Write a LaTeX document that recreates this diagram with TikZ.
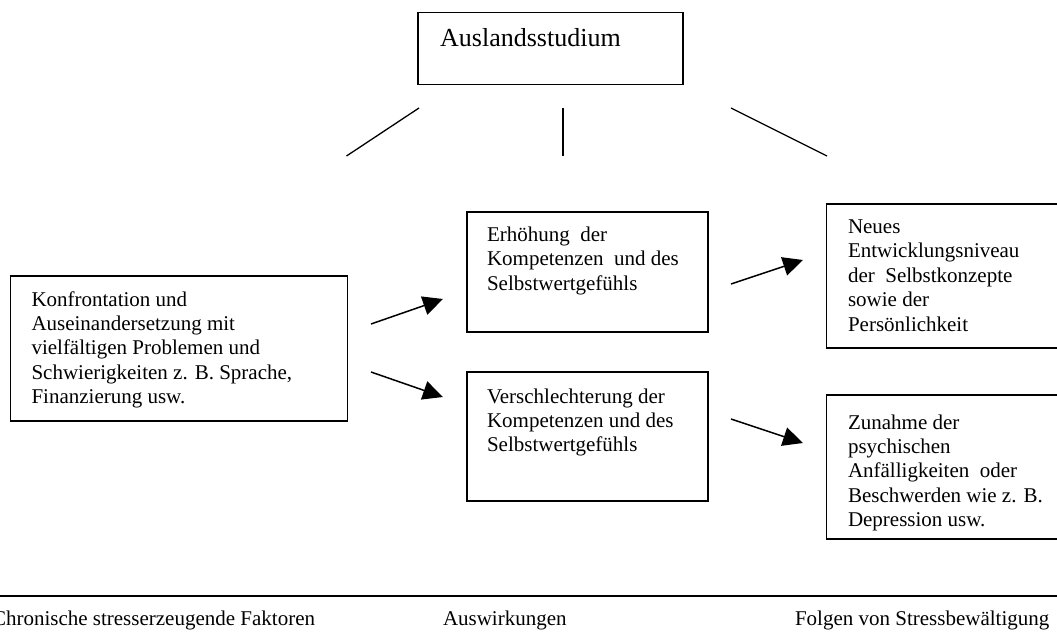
\documentclass[tikz,border=0pt]{standalone}
\usepackage{fontspec}
\setmainfont{Liberation Serif}
\usetikzlibrary{arrows.meta}
\begin{document}
\begin{tikzpicture}[x=1pt,y=-1pt,
  box/.style={draw, line width=1.5pt, inner sep=0pt, outer sep=0pt, anchor=north west},
  txt/.style={anchor=base west, inner sep=0pt, outer sep=0pt, font=\fontsize{21}{24.4}\selectfont},
  conn/.style={line width=1.3pt},
  arr/.style={line width=1.5pt, -{Triangle[length=20pt,width=19pt]}}]
\useasboundingbox (0,0) rectangle (1057,642);
\fill[white] (0,0) rectangle (1057,642);
\clip (0,0) rectangle (1057,642);

% top box
\node[box, minimum width=265pt, minimum height=72pt] (top) at (418,12.5) {};
\node[anchor=base west, inner sep=0pt, font=\fontsize{26}{30}\selectfont] (toptxt) at (440,46.5) {Auslandsstudium};

% three lines
\coordinate (l1a) at (419,108); \coordinate (l1b) at (346.5,156);
\coordinate (l2a) at (563,108); \coordinate (l2b) at (563,156);
\coordinate (l3a) at (731,108); \coordinate (l3b) at (827,156);
\draw[conn] (l1a) -- (l1b);
\draw[conn] (l2a) -- (l2b);
\draw[conn] (l3a) -- (l3b);

% left box
\node[box, minimum width=337pt, minimum height=145pt] (left) at (10.5,276) {};
\node[txt] (lefttxt) at (31.5,306) {\begin{tabular}[t]{@{}l@{}}Konfrontation und\\Auseinandersetzung mit\\vielfältigen Problemen und\\Schwierigkeiten z. B. Sprache,\\Finanzierung usw.\end{tabular}};

% middle boxes
\node[box, minimum width=241pt, minimum height=120pt] (midtop) at (467,212) {};
\node[txt] (midtoptxt) at (487,241.5) {\begin{tabular}[t]{@{}l@{}}Erhöhung~~der\\Kompetenzen~~und des\\Selbstwertgefühls\end{tabular}};

\node[box, minimum width=241pt, minimum height=129pt] (midbot) at (467,372) {};
\node[txt] (midbottxt) at (487,403) {\begin{tabular}[t]{@{}l@{}}Verschlechterung der\\Kompetenzen und des\\Selbstwertgefühls\end{tabular}};

% right boxes (extend beyond the right edge)
\node[box, minimum width=260pt, minimum height=144pt] (rtop) at (826.5,204) {};
\node[txt] (rtoptxt) at (848,233.5) {\begin{tabular}[t]{@{}l@{}}Neues\\Entwicklungsniveau\\der~~Selbstkonzepte\\sowie der\\Persönlichkeit\end{tabular}};

\node[box, minimum width=260pt, minimum height=144pt] (rbot) at (826.5,395) {};
\node[txt] (rbottxt) at (848,429) {\begin{tabular}[t]{@{}l@{}}Zunahme der\\psychischen\\Anfälligkeiten~ oder\\Beschwerden wie z. B.\\Depression usw.\end{tabular}};

% arrows
\coordinate (a1s) at (371,324); \coordinate (a1e) at (443,299);
\coordinate (a2s) at (371,372); \coordinate (a2e) at (443,397);
\coordinate (a3s) at (731,284); \coordinate (a3e) at (803,260);
\coordinate (a4s) at (731,419); \coordinate (a4e) at (803,443);
\draw[arr] (a1s) -- (a1e);
\draw[arr] (a2s) -- (a2e);
\draw[arr] (a3s) -- (a3e);
\draw[arr] (a4s) -- (a4e);

% bottom rule and labels
\coordinate (bl1) at (-5,596); \coordinate (bl2) at (1062,596);
\draw[line width=2pt] (bl1) -- (bl2);
\node[txt] (lab1) at (-8,625) {Chronische stresserzeugende Faktoren};
\node[txt] (lab2) at (443,625) {Auswirkungen};
\node[txt] (lab3) at (795,625) {Folgen von Stressbewältigung};
\end{tikzpicture}
\end{document}
